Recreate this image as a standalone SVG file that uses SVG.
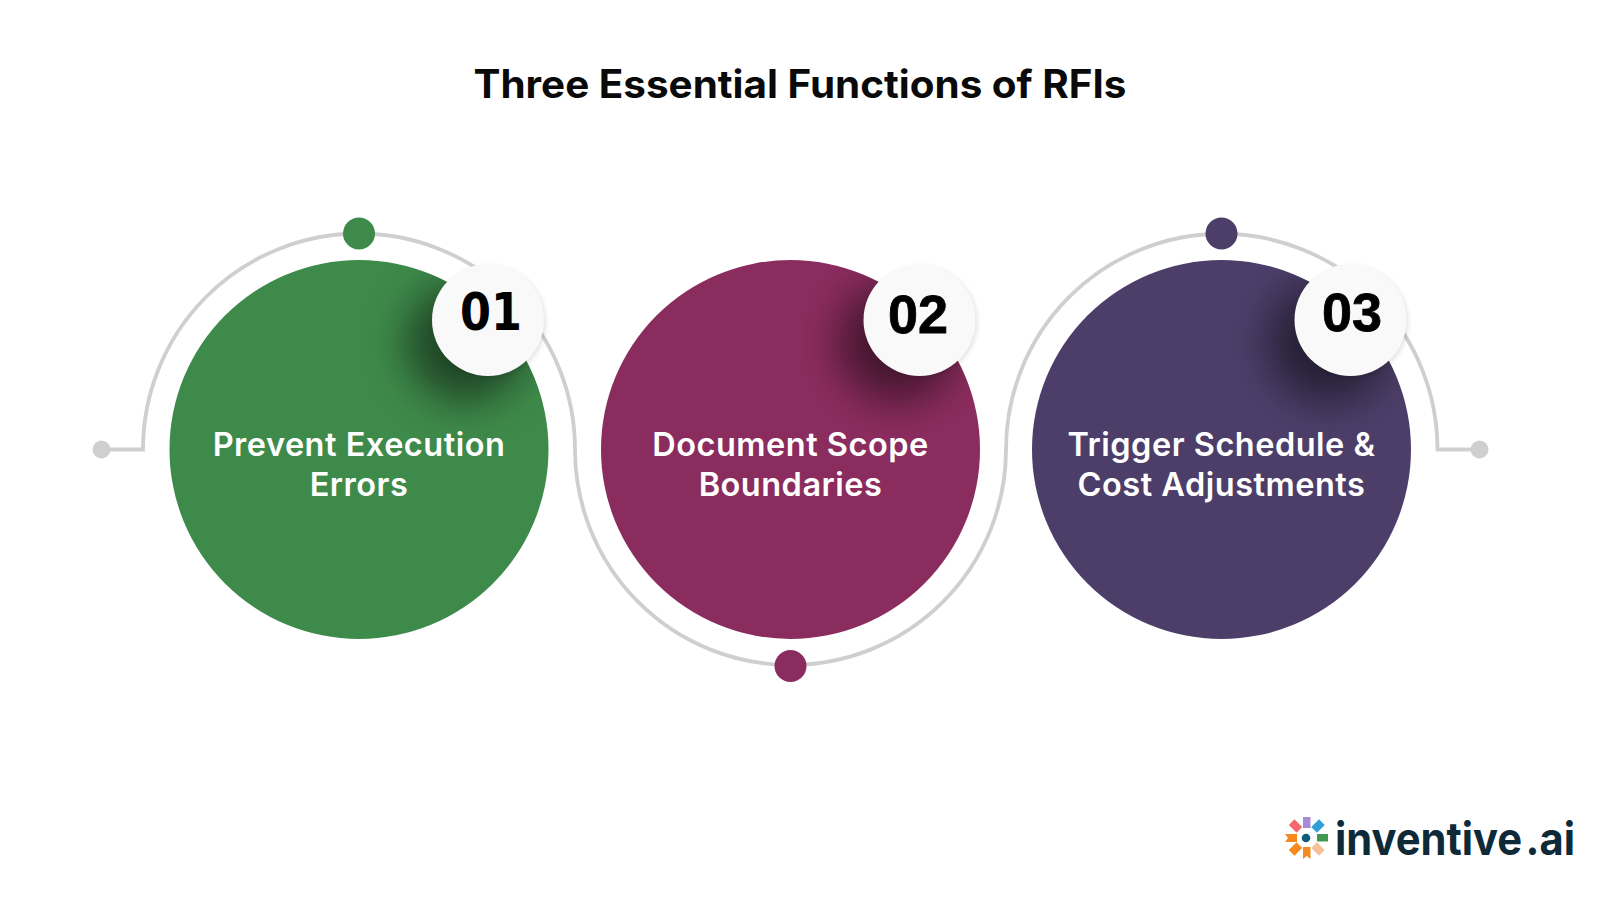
<svg xmlns="http://www.w3.org/2000/svg" width="1600" height="900" viewBox="0 0 1600 900">
<style>
.ring{fill:none;stroke:#cfcfcf;stroke-width:3.8;stroke-linejoin:miter}
.lab{font-family:Inter,"Noto Sans",sans-serif;font-weight:600;font-size:32.5px;letter-spacing:.5px;fill:#fff;text-anchor:middle}
.num{font-family:"Liberation Sans",Arial,sans-serif;font-weight:700;font-size:54px;fill:#000;text-anchor:middle;stroke:#000;stroke-width:.8}
.badge{fill:#f9f9f9}
.end{fill:#cfcfcf}
.deep{fill:#000;fill-opacity:.5;filter:url(#sh)}
.soft{fill:#000;fill-opacity:.1;filter:url(#sh2)}
</style>
<defs>
<filter id="sh" x="-80%" y="-80%" width="260%" height="260%"><feGaussianBlur stdDeviation="21"/></filter>
<filter id="sh2" x="-20%" y="-20%" width="140%" height="140%"><feGaussianBlur stdDeviation="2"/></filter>
<clipPath id="c1"><circle cx="359" cy="449.5" r="189.5"/></clipPath>
<clipPath id="c2"><circle cx="790.5" cy="449.5" r="189.5"/></clipPath>
<clipPath id="c3"><circle cx="1221.5" cy="449.5" r="189.5"/></clipPath>
</defs>
<rect width="1600" height="900" fill="#fff"/>
<text id="title" x="800" y="98" text-anchor="middle" font-family="Inter,'Noto Sans',sans-serif" font-weight="700" font-size="39" fill="#0a0a0a" textLength="653" lengthAdjust="spacingAndGlyphs">Three Essential Functions of RFIs</text>
<g id="connectors">
<path class="ring" d="M101.500 449.500H143A100 100 0 0 1 575 449.500A100 100 0 0 0 1006 449.500A100 100 0 0 1 1437.500 449.500H1479"/>
</g>
<g id="node1">
<circle cx="359" cy="449.500" r="189.500" fill="#3e8a4a"/>
<g clip-path="url(#c1)"><circle class="deep" cx="466" cy="342" r="60"/></g>
<circle cx="359" cy="233.500" r="16" fill="#3e8a4a"/>
<circle class="end" cx="101.500" cy="449.500" r="9"/>
<circle class="soft" cx="490" cy="322" r="56"/>
<circle class="badge" cx="488" cy="320" r="56"/>
<text x="491" y="330" text-anchor="middle" font-family="'DejaVu Sans',sans-serif" font-weight="700" font-size="51" fill="#000" textLength="62" lengthAdjust="spacingAndGlyphs">01</text>
<text class="lab" x="359" y="456">Prevent Execution</text>
<text class="lab" x="359" y="496">Errors</text>
</g>
<g id="node2">
<circle cx="790.500" cy="449.500" r="189.500" fill="#8b2c5e"/>
<g clip-path="url(#c2)"><circle class="deep" cx="897.500" cy="342" r="60"/></g>
<circle cx="790.500" cy="666" r="16" fill="#8b2c5e"/>
<circle class="soft" cx="921.500" cy="322" r="56"/>
<circle class="badge" cx="919.500" cy="320" r="56"/>
<text class="num" x="918" y="333">02</text>
<text class="lab" x="790.500" y="456">Document Scope</text>
<text class="lab" x="790.500" y="496">Boundaries</text>
</g>
<g id="node3">
<circle cx="1221.500" cy="449.500" r="189.500" fill="#4c3e69"/>
<g clip-path="url(#c3)"><circle class="deep" cx="1328.500" cy="342" r="60"/></g>
<circle cx="1221.500" cy="233.500" r="16" fill="#4c3e69"/>
<circle class="end" cx="1479.500" cy="449.500" r="9"/>
<circle class="soft" cx="1352.500" cy="322" r="56"/>
<circle class="badge" cx="1350.500" cy="320" r="56"/>
<text class="num" x="1352" y="331">03</text>
<text class="lab" x="1221.500" y="456">Trigger Schedule &amp;</text>
<text class="lab" x="1221.500" y="496">Cost Adjustments</text>
</g>
<g id="logo">
<rect x="1303" y="817" width="7.500" height="11" fill="#a78bd8"/>
<rect x="1317" y="834" width="11" height="7.500" fill="#3f9a4f"/>
<polygon points="1285,834 1297,834 1297,842 1285,842 1288,838" fill="#f58a1f"/>
<polygon points="1303,847 1310.500,847 1310.500,859 1306.800,856 1303,859" fill="#f58a1f"/>
<rect x="1290" y="822" width="11" height="8" fill="#f4686e" transform="rotate(45 1295.500 826)"/>
<rect x="1312.500" y="822" width="11" height="8" fill="#2f9fd8" transform="rotate(-45 1318 826)"/>
<rect x="1290" y="845" width="11" height="8" fill="#f58a1f" transform="rotate(-45 1295.500 849)"/>
<rect x="1312.500" y="845" width="11" height="8" fill="#f4c09a" transform="rotate(45 1318 849)"/>
<circle cx="1306" cy="838" r="4.300" fill="#0f5c7a"/>
<text x="1335" y="855" font-family="Inter,'Open Sans',sans-serif" font-weight="700" font-size="45" word-spacing="-7" fill="#0e2a38" textLength="240" lengthAdjust="spacingAndGlyphs">inventive .ai</text>
</g>
</svg>
